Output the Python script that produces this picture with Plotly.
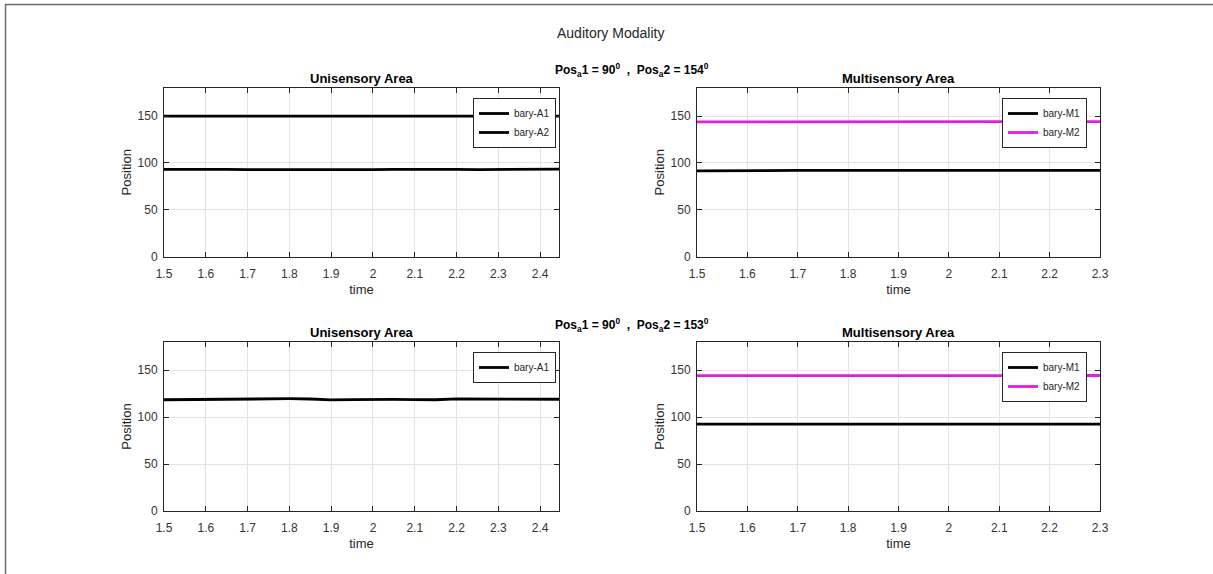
import plotly.graph_objects as go

# ---- data -------------------------------------------------------------
time_uni = [1.50, 1.55, 1.60, 1.65, 1.70, 1.75, 1.80, 1.85, 1.90, 1.95,
            2.00, 2.05, 2.10, 2.15, 2.20, 2.25, 2.30, 2.35, 2.40, 2.445]
time_multi = [1.50, 1.55, 1.60, 1.65, 1.70, 1.75, 1.80, 1.85, 1.90,
              1.95, 2.00, 2.05, 2.10, 2.15, 2.20, 2.25, 2.30]

# row 1: Pos_a1 = 90, Pos_a2 = 154
row1_bary_A1 = [93.0, 93.2, 93.3, 93.1, 92.9, 92.8, 93.0, 93.1, 93.0, 92.8,
                92.9, 93.1, 93.3, 93.2, 93.0, 92.9, 93.0, 93.1, 93.2, 93.4]
row1_bary_A2 = [150.0, 150.0, 149.9, 149.8, 149.8, 149.7, 150.2, 150.3, 150.1, 150.0,
                149.9, 150.0, 150.1, 150.0, 149.9, 150.0, 150.1, 150.0, 149.9, 150.0]
row1_bary_M1 = [91.4, 91.7, 91.9, 92.0, 92.0, 92.0, 92.0, 92.0, 92.0,
                92.0, 92.0, 92.0, 92.0, 92.0, 92.1, 92.1, 92.1]
row1_bary_M2 = [143.9, 143.9, 144.0, 144.0, 144.0, 144.0, 144.0, 144.0, 144.0,
                144.0, 144.0, 144.0, 144.0, 144.0, 144.0, 144.0, 144.0]

# row 2: Pos_a1 = 90, Pos_a2 = 153
row2_bary_A1 = [118.5, 118.8, 118.9, 118.9, 119.0, 119.2, 119.6, 119.3, 118.4, 118.6,
                118.9, 118.9, 118.6, 118.5, 119.4, 119.2, 118.8, 118.9, 119.0, 119.0]
row2_bary_M1 = [92.6, 92.6, 92.5, 92.5, 92.5, 92.4, 92.4, 92.4, 92.4,
                92.4, 92.4, 92.5, 92.5, 92.5, 92.5, 92.6, 92.6]
row2_bary_M2 = [144.2, 144.2, 144.3, 144.3, 144.3, 144.3, 144.3, 144.3, 144.3,
                144.3, 144.3, 144.3, 144.3, 144.3, 144.3, 144.3, 144.3]

row_titles = ["Pos<sub>a</sub>1 = 90<sup>0</sup>  ,  Pos<sub>a</sub>2 = 154<sup>0</sup>",
              "Pos<sub>a</sub>1 = 90<sup>0</sup>  ,  Pos<sub>a</sub>2 = 153<sup>0</sup>"]
panel_titles = ["Unisensory Area", "Multisensory Area"]
main_title = "Auditory Modality"

# ---- styling ----------------------------------------------------------
W, H = 1213, 574
FONT = "Liberation Sans, Arial, sans-serif"
INK = "#262626"
BLACK = "#000000"
MAGENTA = "#E01EE0"
LW = 2.8

def px_x(v):
    return v / W

def px_y(v):
    return 1 - v / H

# panel boxes in pixels: (left, right, top, bottom)
boxes = {
    1: (164, 559, 88, 256.5),
    2: (697, 1100, 88, 256.5),
    3: (164, 559, 342, 511),
    4: (697, 1100, 342, 511),
}
x_ranges = {1: [1.5, 2.445], 2: [1.5, 2.3], 3: [1.5, 2.445], 4: [1.5, 2.3]}
# legend right edge inset from the axes' right edge, in pixels
legend_inset = {1: 3, 2: 13, 3: 3, 4: 13}

fig = go.Figure()

def add_line(ax, legend, name, x, y, color):
    suffix = "" if ax == 1 else str(ax)
    fig.add_trace(go.Scatter(
        x=x, y=y, mode="lines", name=name,
        line=dict(color=color, width=LW),
        xaxis="x" + suffix, yaxis="y" + suffix,
        legend=legend,
    ))

add_line(1, "legend", "bary-A1", time_uni, row1_bary_A1, BLACK)
add_line(1, "legend", "bary-A2", time_uni, row1_bary_A2, BLACK)
add_line(2, "legend2", "bary-M1", time_multi, row1_bary_M1, BLACK)
add_line(2, "legend2", "bary-M2", time_multi, row1_bary_M2, MAGENTA)
add_line(3, "legend3", "bary-A1", time_uni, row2_bary_A1, BLACK)
add_line(4, "legend4", "bary-M1", time_multi, row2_bary_M1, BLACK)
add_line(4, "legend4", "bary-M2", time_multi, row2_bary_M2, MAGENTA)

layout = dict(
    width=W, height=H,
    margin=dict(l=0, r=0, t=0, b=0, pad=0, autoexpand=False),
    paper_bgcolor="white", plot_bgcolor="white",
    font=dict(family=FONT, color=INK),
    showlegend=True,
)

for ax, (l, r, t, b) in boxes.items():
    suffix = "" if ax == 1 else str(ax)
    common = dict(
        showline=True, linecolor=INK, linewidth=1, mirror="ticks",
        ticks="inside", ticklen=5, tickcolor=INK, automargin=False,
        showgrid=True, gridcolor="#e3e3e3", gridwidth=1,
        zeroline=False, tickfont=dict(size=12, color="#333333", family=FONT),
    )
    layout["xaxis" + suffix] = dict(
        common, domain=[px_x(l), px_x(r)], range=x_ranges[ax],
        dtick=0.1, tick0=1.5, anchor="y" + suffix, ticklabelstandoff=6,
        title=dict(text="time", font=dict(size=13, color=INK), standoff=4),
    )
    layout["yaxis" + suffix] = dict(
        common, domain=[px_y(b), px_y(t)], range=[0, 180],
        tickvals=[0, 50, 100, 150], anchor="x" + suffix, ticklabelstandoff=3,
        title=dict(text="Position", font=dict(size=13, color=INK), standoff=3),
    )

# one legend per panel, upper-right inside the axes
legend_style = dict(
    bgcolor="white", bordercolor=INK, borderwidth=1,
    font=dict(size=10, color=INK, family=FONT),
    xanchor="right", yanchor="top", itemwidth=30,
    tracegroupgap=0,
)
for key, ax in (("legend", 1), ("legend2", 2), ("legend3", 3), ("legend4", 4)):
    l, r, t, b = boxes[ax]
    layout[key] = dict(legend_style, x=px_x(r - legend_inset[ax]), y=px_y(t + 10))

annotations = [
    dict(text=main_title, x=px_x(610), y=px_y(33), xref="paper", yref="paper",
         showarrow=False, font=dict(size=14, color=INK), xanchor="center", yanchor="middle"),
    dict(text="<b>" + row_titles[0] + "</b>", x=px_x(632), y=px_y(70), xref="paper",
         yref="paper", showarrow=False, font=dict(size=12, color=BLACK),
         xanchor="center", yanchor="middle"),
    dict(text="<b>" + row_titles[1] + "</b>", x=px_x(632), y=px_y(325), xref="paper",
         yref="paper", showarrow=False, font=dict(size=12, color=BLACK),
         xanchor="center", yanchor="middle"),
]
for ax, (l, r, t, b) in boxes.items():
    title = panel_titles[0] if ax in (1, 3) else panel_titles[1]
    annotations.append(dict(
        text="<b>" + title + "</b>", x=px_x((l + r) / 2), y=px_y(t - 10),
        xref="paper", yref="paper", showarrow=False,
        font=dict(size=13, color=BLACK), xanchor="center", yanchor="middle",
    ))
layout["annotations"] = annotations

# outer figure frame
layout["shapes"] = [dict(
    type="rect", xref="paper", yref="paper",
    x0=px_x(5.5), x1=1.02, y0=-0.02, y1=px_y(4.5),
    line=dict(color="#6e6e6e", width=1.5), fillcolor="rgba(0,0,0,0)",
)]

fig.update_layout(**layout)
fig.write_html("out.html")
